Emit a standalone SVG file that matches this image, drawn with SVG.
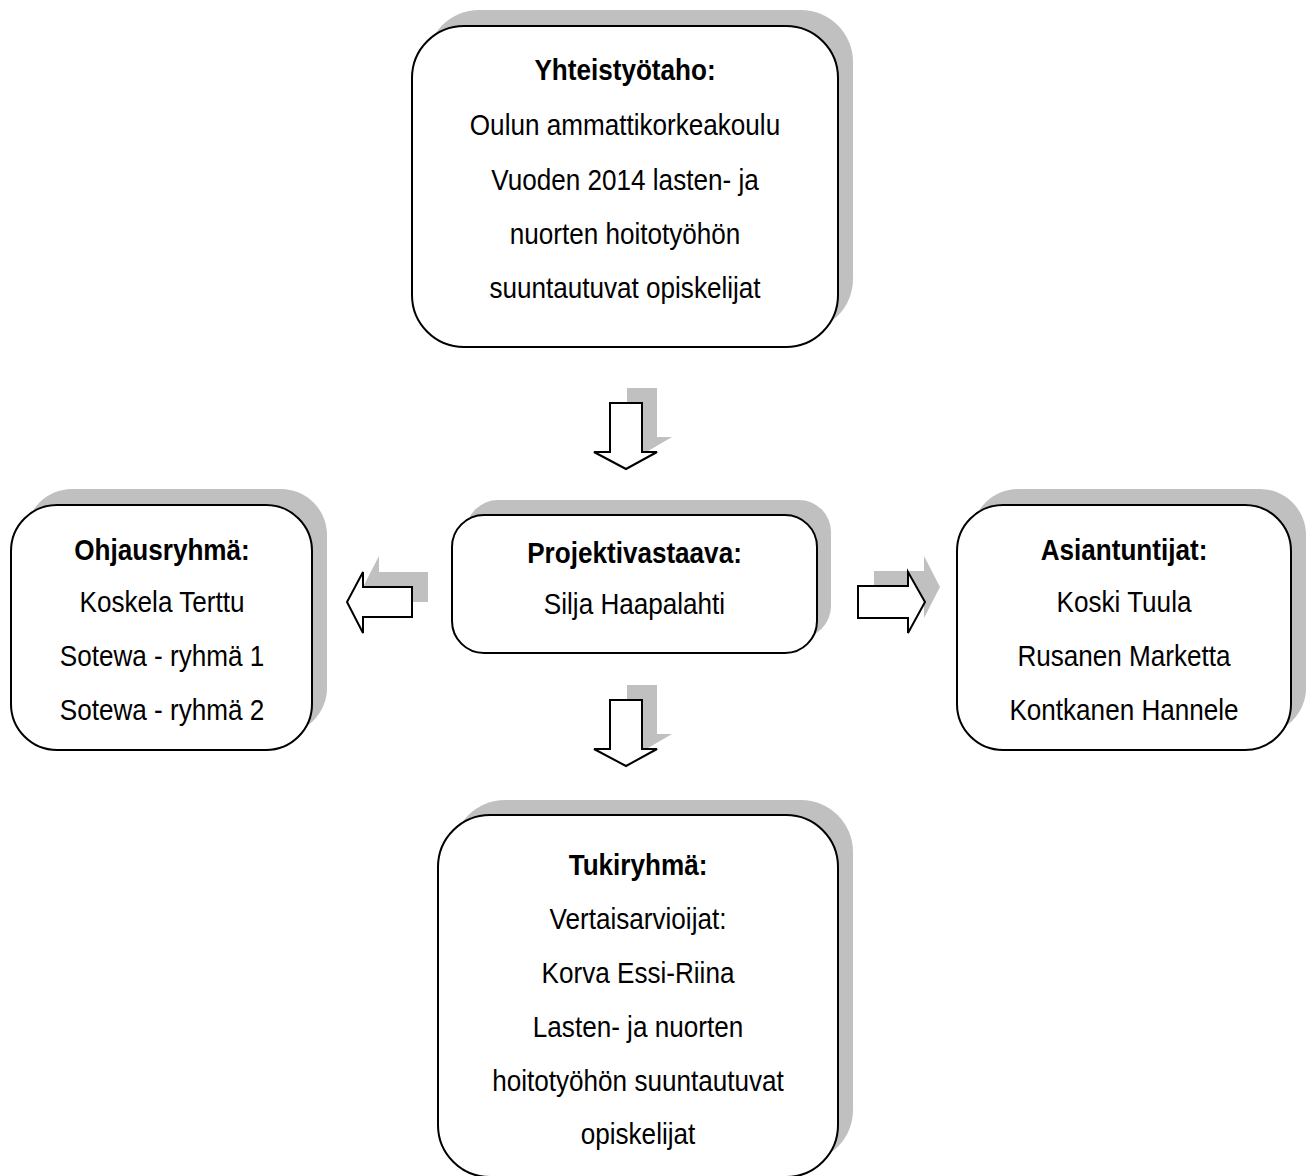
<svg xmlns="http://www.w3.org/2000/svg" width="1312" height="1176" viewBox="0 0 1312 1176">
<style>
.shadow{fill:#c0c0c0;stroke:none}
.box{fill:#ffffff;stroke:#000000;stroke-width:2}
.arrow{fill:#ffffff;stroke:#000000;stroke-width:2;stroke-linejoin:miter}
text{font-family:"Liberation Sans",Arial,sans-serif;font-size:30px;fill:#000000;text-anchor:middle}
.b{font-weight:bold}
</style>
<rect width="1312" height="1176" fill="#ffffff"/>
<g id="connectors">
  <g id="arrow-top-down">
    <path class="shadow" d="M627,388 H657 V437 H672 L643,454 L611,437 H627 Z"/>
    <path class="arrow" d="M610,403 H642 V452 H657 L626,469 L594,452 H610 Z"/>
  </g>
  <g id="arrow-left">
    <path class="shadow" d="M428,572 V602 H379 V617 L363,587 L379,556 V572 Z"/>
    <path class="arrow" d="M412,587 V617 H363 V633 L347,602 L363,572 V587 Z"/>
  </g>
  <g id="arrow-right">
    <path class="shadow" d="M874,571 V603 H924 V618 L940,587 L924,556 V571 Z"/>
    <path class="arrow" d="M858,586 V618 H908 V633 L925,602 L908,572 V586 Z"/>
  </g>
  <g id="arrow-bottom-down">
    <path class="shadow" d="M627,685 H657 V734 H672 L643,751 L611,734 H627 Z"/>
    <path class="arrow" d="M610,700 H642 V749 H657 L626,766 L594,749 H610 Z"/>
  </g>
</g>
<g id="node-yhteistyotaho">
  <rect class="shadow" x="427" y="10" width="426" height="321" rx="52"/>
  <rect class="box" x="412" y="26" width="426" height="321" rx="52"/>
  <g transform="translate(625,0) scale(0.87,1)">
    <text class="b" x="0" y="80">Yhteistyötaho:</text>
    <text x="0" y="135">Oulun ammattikorkeakoulu</text>
    <text x="0" y="190">Vuoden 2014 lasten- ja</text>
    <text x="0" y="244">nuorten hoitotyöhön</text>
    <text x="0" y="298">suuntautuvat opiskelijat</text>
  </g>
</g>
<g id="node-ohjausryhma">
  <rect class="shadow" x="26" y="489" width="301" height="245" rx="46"/>
  <rect class="box" x="11" y="505" width="301" height="245" rx="46"/>
  <g transform="translate(162,0) scale(0.87,1)">
    <text class="b" x="0" y="560">Ohjausryhmä:</text>
    <text x="0" y="612">Koskela Terttu</text>
    <text x="0" y="666">Sotewa - ryhmä 1</text>
    <text x="0" y="720">Sotewa - ryhmä 2</text>
  </g>
</g>
<g id="node-projektivastaava">
  <rect class="shadow" x="466" y="500" width="365" height="138" rx="32"/>
  <rect class="box" x="452" y="515" width="365" height="138" rx="32"/>
  <g transform="translate(634.5,0) scale(0.87,1)">
    <text class="b" x="0" y="563">Projektivastaava:</text>
    <text x="0" y="614">Silja Haapalahti</text>
  </g>
</g>
<g id="node-asiantuntijat">
  <rect class="shadow" x="972" y="489" width="334" height="245" rx="46"/>
  <rect class="box" x="957" y="505" width="334" height="245" rx="46"/>
  <g transform="translate(1124,0) scale(0.87,1)">
    <text class="b" x="0" y="560">Asiantuntijat:</text>
    <text x="0" y="612">Koski Tuula</text>
    <text x="0" y="666">Rusanen Marketta</text>
    <text x="0" y="720">Kontkanen Hannele</text>
  </g>
</g>
<g id="node-tukiryhma">
  <rect class="shadow" x="453" y="800" width="400" height="362" rx="52"/>
  <rect class="box" x="438" y="815" width="400" height="362" rx="52"/>
  <g transform="translate(638,0) scale(0.87,1)">
    <text class="b" x="0" y="875">Tukiryhmä:</text>
    <text x="0" y="929">Vertaisarvioijat:</text>
    <text x="0" y="983">Korva Essi-Riina</text>
    <text x="0" y="1037">Lasten- ja nuorten</text>
    <text x="0" y="1091">hoitotyöhön suuntautuvat</text>
    <text x="0" y="1144">opiskelijat</text>
  </g>
</g>
</svg>
